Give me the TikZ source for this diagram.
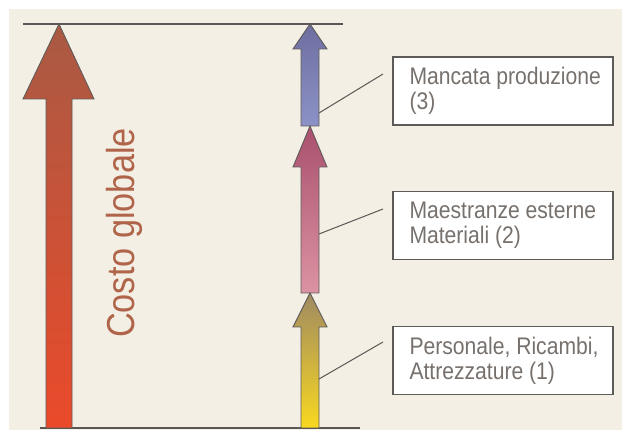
\documentclass[tikz,border=0pt]{standalone}
\usepackage{fontspec}
\newfontfamily\condfont[FakeStretch=0.88]{Liberation Sans}
\definecolor{bg}{HTML}{F3EFE5}
\definecolor{rulecol}{HTML}{5A5756}
\definecolor{edgecol}{HTML}{5E5A58}
\definecolor{txtgray}{HTML}{77716D}
\definecolor{costcol}{HTML}{B0654A}
\definecolor{bigtop}{HTML}{A95A44}
\definecolor{bigbot}{HTML}{EA4A2A}
\definecolor{bluetop}{HTML}{6E6EA0}
\definecolor{bluebot}{HTML}{8C92C6}
\definecolor{pinktop}{HTML}{A9506E}
\definecolor{pinkbot}{HTML}{DC93A2}
\definecolor{yeltop}{HTML}{A08A62}
\definecolor{yelbot}{HTML}{F8D820}
\begin{document}
\begin{tikzpicture}[x=1pt,y=-1pt,
  rule/.style={draw=rulecol,line width=1.5pt},
  arrowshape/.style={draw=edgecol,line width=0.9pt,line join=miter},
  leader/.style={draw=rulecol,line width=1pt},
  labelbox/.style={draw=edgecol,line width=1.4pt,fill=white,minimum width=220pt,minimum height=68pt,inner sep=0pt},
  lbl/.style={font=\condfont\fontsize{24}{25}\selectfont,text=txtgray,align=left,inner sep=0pt},
  biglbl/.style={font=\condfont\fontsize{39}{40}\selectfont,text=costcol,inner sep=0pt}]
\useasboundingbox (0,0) rectangle (622,430);
\fill[white] (0,0) rectangle (622,430);
\fill[bg] (9,9) rectangle (622,430);
% reference lines
\coordinate (tl) at (23,24); \coordinate (tr) at (343,24);
\coordinate (bl) at (40,428); \coordinate (br) at (360,428);
\draw[rule] (tl) -- (tr);
\draw[rule] (bl) -- (br);
% big arrow
\shadedraw[arrowshape,top color=bigtop,bottom color=bigbot]
  (59,24) -- (94,99) -- (72,99) -- (72,428) -- (46,428) -- (46,99) -- (23,99) -- cycle;
% stacked arrows
\shadedraw[arrowshape,top color=bluetop,bottom color=bluebot]
  (310,24) -- (327,49) -- (319,49) -- (319,126) -- (301,126) -- (301,49) -- (293,49) -- cycle;
\shadedraw[arrowshape,top color=pinktop,bottom color=pinkbot]
  (310,126) -- (327,167) -- (319,167) -- (319,293) -- (301,293) -- (301,167) -- (293,167) -- cycle;
\shadedraw[arrowshape,top color=yeltop,bottom color=yelbot]
  (310,293) -- (327,327) -- (319,327) -- (319,428) -- (301,428) -- (301,327) -- (293,327) -- cycle;
% vertical label
\node[biglbl,rotate=90,anchor=base] (cg) at (134,233) {Costo globale};
% boxes
\node[labelbox] (b3) at (503,91) {};
\node[labelbox] (b2) at (503,225.5) {};
\node[labelbox] (b1) at (503,360.5) {};
\node[lbl,anchor=west] (t3) at ([xshift=17pt]b3.west) {Mancata produzione\\(3)};
\node[lbl,anchor=west] (t2) at ([xshift=17pt]b2.west) {Maestranze esterne\\Materiali (2)};
\node[lbl,anchor=west] (t1) at ([xshift=17pt]b1.west) {Personale, Ricambi,\\Attrezzature (1)};
% leaders
\coordinate (s3) at (383,74);  \coordinate (p3) at (319,113);
\coordinate (s2) at (383,209); \coordinate (p2) at (319,234);
\coordinate (s1) at (383,342); \coordinate (p1) at (319,379);
\draw[leader] (s3) -- (p3);
\draw[leader] (s2) -- (p2);
\draw[leader] (s1) -- (p1);
\end{tikzpicture}
\end{document}
